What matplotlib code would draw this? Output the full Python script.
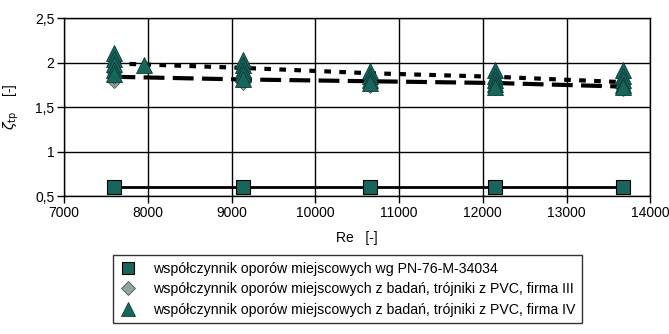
import matplotlib.pyplot as plt
from matplotlib.lines import Line2D

plt.rcParams['font.family'] = ['Liberation Sans Narrow', 'Liberation Sans', 'DejaVu Sans']

re_pts = [7600, 9130, 10650, 12150, 13670]

# wg PN-76-M-34034
zeta_norm = [0.6, 0.6, 0.6, 0.6, 0.6]

# firma III (diamonds), several measurements per Re
re_iii = [7600, 7600, 7600, 9130, 9130, 9130, 10650, 10650, 12150, 12150, 13670, 13670]
zeta_iii = [1.79, 1.84, 1.88, 1.77, 1.81, 1.85, 1.74, 1.78, 1.71, 1.75, 1.70, 1.74]

# firma IV (triangles)
re_iv = [7600, 7600, 7600, 7600, 7600, 7950,
         9130, 9130, 9130, 9130, 9130,
         10650, 10650, 10650, 10650,
         12150, 12150, 12150, 12150, 12150,
         13670, 13670, 13670, 13670, 13670]
zeta_iv = [2.11, 2.04, 1.98, 1.92, 1.87, 1.97,
           2.03, 1.97, 1.92, 1.87, 1.82,
           1.90, 1.85, 1.80, 1.77,
           1.92, 1.85, 1.80, 1.76, 1.73,
           1.92, 1.85, 1.80, 1.75, 1.72]

# trend lines
zeta_iii_mean = [1.84, 1.81, 1.79, 1.77, 1.73]
zeta_iv_mean = [1.99, 1.94, 1.88, 1.84, 1.78]

teal = '#17665c'
grey = '#8fa59e'

fig = plt.figure(figsize=(6.69, 3.34), dpi=100)
ax = fig.add_axes([0.096, 0.413, 0.876, 0.533])

ax.plot(re_pts, zeta_norm, color='black', lw=2, zorder=2)
ax.plot(re_pts, zeta_norm, 's', color=teal, mec='black', mew=0.8, ms=9.5, zorder=3)

ax.plot(re_pts, zeta_iii_mean, color='black', lw=3, dashes=(5, 2), zorder=2)
ax.plot(re_pts, zeta_iv_mean, color='black', lw=3, dashes=(1.6, 2), zorder=2)

ax.plot(re_iii, zeta_iii, 'D', color=grey, mec='#4a5a55', mew=0.6, ms=7.5, zorder=3)
ax.plot(re_iv, zeta_iv, '^', color=teal, mec='#0d3a34', mew=0.6, ms=11, zorder=4)

ax.set_xlim(7000, 14000)
ax.set_ylim(0.5, 2.5)
ax.set_xticks(range(7000, 14001, 1000))
ax.set_yticks([0.5, 1, 1.5, 2, 2.5])
ax.set_yticklabels(['0,5', '1', '1,5', '2', '2,5'])
ax.tick_params(labelsize=10, length=5, width=1, direction='out', pad=2)
ax.grid(True, color='black', lw=1)
ax.set_axisbelow(True)
for s in ax.spines.values():
    s.set_linewidth(1)

ax.set_xlabel('Re   [-]', fontsize=10, labelpad=8)
ax.set_ylabel(r'$\zeta_{\mathrm{tp}}$    [-]', fontsize=10, labelpad=10)

handles = [
    Line2D([], [], ls='none', marker='s', color=teal, mec='black', mew=0.8, ms=9),
    Line2D([], [], ls='none', marker='D', color=grey, mec='#4a5a55', mew=0.6, ms=7.5),
    Line2D([], [], ls='none', marker='^', color=teal, mec='#0d3a34', mew=0.6, ms=10),
]
labels = [
    'współczynnik oporów miejscowych wg PN-76-M-34034',
    'współczynnik oporów miejscowych z badań, trójniki z PVC, firma III',
    'współczynnik oporów miejscowych z badań, trójniki z PVC, firma IV',
]
leg = fig.legend(handles, labels, loc='lower left', bbox_to_anchor=(0.158, 0.012),
                 fontsize=10.2, frameon=True, fancybox=False, edgecolor='black',
                 handletextpad=1.2, labelspacing=0.45, borderpad=0.45, handlelength=1.2)
leg.get_frame().set_linewidth(1)

fig.savefig('out.png', dpi=100)
